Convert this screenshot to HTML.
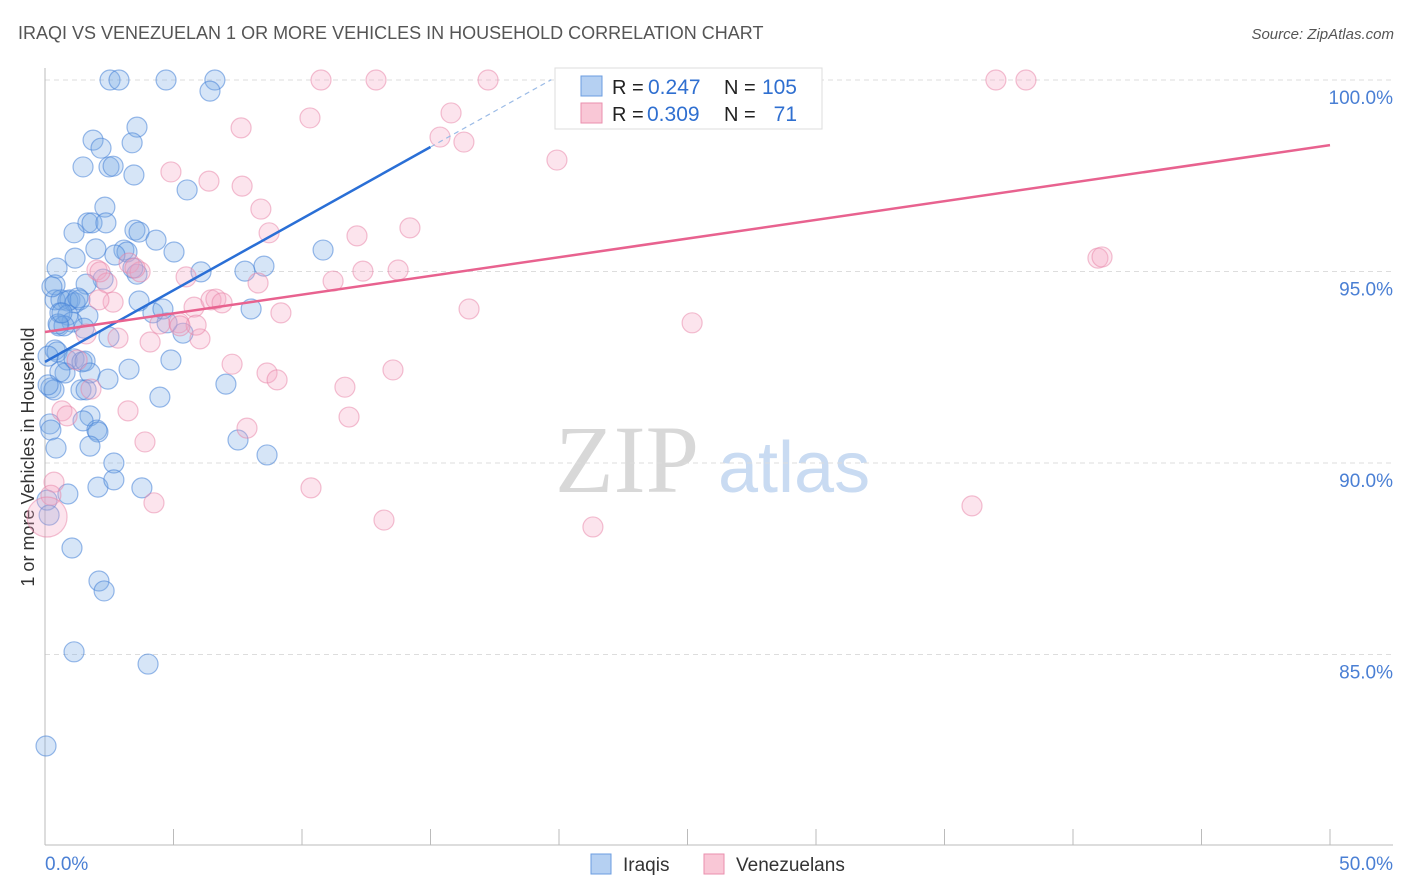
<!DOCTYPE html>
<html><head><meta charset="utf-8"><style>
body{margin:0;background:#fff;font-family:"Liberation Sans",sans-serif;}
#wrap{position:relative;width:1406px;height:892px;overflow:hidden;}
</style></head><body>
<div id="wrap">
<svg id="svg" width="1406" height="892" xmlns="http://www.w3.org/2000/svg">
<text x="18" y="39" font-size="18" fill="#555">IRAQI VS VENEZUELAN 1 OR MORE VEHICLES IN HOUSEHOLD CORRELATION CHART</text>
<text x="1394" y="39" font-size="15" fill="#555" font-style="italic" text-anchor="end">Source: ZipAtlas.com</text>
<text transform="translate(34,457) rotate(-90)" font-size="18" fill="#333" text-anchor="middle">1 or more Vehicles in Household</text>
<text x="555" y="492" font-size="96" fill="#d8d8d8" font-family="Liberation Serif,serif">ZIP</text>
<text x="718" y="492" font-size="72" fill="#c9dbf2">atlas</text>
<g id="grid"></g><g id="axes"></g><g id="pts"></g><g id="lines"></g>
<g>
<rect x="555" y="68" width="267" height="61" fill="#fff" stroke="#ddd"/>
<rect x="581" y="76" width="21" height="20" fill="#b5d0f2" stroke="#6b9de0"/>
<rect x="581" y="103" width="21" height="20" fill="#f9c7d6" stroke="#ea8fae"/>
<text x="612" y="94" font-size="20" fill="#222">R =</text>
<text x="648" y="94" font-size="21" fill="#2f6fd0">0.247</text>
<text x="724" y="94" font-size="20" fill="#222">N =</text>
<text x="797" y="94" font-size="21" fill="#2f6fd0" text-anchor="end">105</text>
<text x="612" y="121" font-size="20" fill="#222">R =</text>
<text x="647" y="121" font-size="21" fill="#2f6fd0">0.309</text>
<text x="724" y="121" font-size="20" fill="#222">N =</text>
<text x="797" y="121" font-size="21" fill="#2f6fd0" text-anchor="end">71</text>
</g>
<g>
<rect x="591" y="854" width="20" height="20" fill="#b5d0f2" stroke="#6b9de0"/>
<text x="623" y="871" font-size="19" fill="#333">Iraqis</text>
<rect x="704" y="854" width="20" height="20" fill="#f9c7d6" stroke="#ea8fae"/>
<text x="736" y="871" font-size="19" fill="#333">Venezuelans</text>
</g>
</svg>
</div>
<script>
const yTicks=[100,95,90,85];
const yTickLabels=["100.0%","95.0%","90.0%","85.0%"];
const xTicks=[0,5,10,15,20,25,30,35,40,45,50];
const xEndLabels=["0.0%","50.0%"];
const iraqiX=[2.53,2.88,4.71,6.61,6.42,1.87,3.58,2.18,1.48,2.49,2.65,3.39,3.46,5.53,2.33,1.67,1.83,2.37,1.13,3.5,3.66,4.32,1.98,3.07,3.19,5.02,1.17,2.72,0.47,2.26,3.58,1.6,3.42,7.78,8.52,10.82,6.07,0.39,0.39,0.62,0.97,0.89,1.17,1.36,1.28,0.58,1.67,0.89,1.05,0.54,0.74,1.52,2.49,5.37,4.75,4.2,3.66,4.59,8.02,0.39,0.47,0.86,1.13,1.44,1.56,0.78,1.75,2.45,3.27,4.9,0.58,0.23,0.35,1.4,1.6,0.12,4.47,7.04,1.75,0.19,0.23,1.48,2.02,2.06,7.51,1.75,0.43,2.68,8.64,2.06,2.68,3.77,0.89,0.08,0.16,1.05,2.1,2.3,1.13,4.01,0.04,0.12,0.27,0.51,0.66];
const iraqiY=[100,100,100,100,99.71,98.43,98.77,98.22,97.73,97.73,97.75,98.36,97.52,97.13,96.68,96.27,96.27,96.27,96.01,96.08,96.03,95.82,95.59,95.56,95.51,95.51,95.35,95.43,95.09,94.8,94.93,94.67,95.09,95.01,95.14,95.56,94.99,94.65,94.26,94.26,94.26,94.23,94.18,94.26,94.31,93.92,93.84,93.86,93.68,93.58,93.58,93.52,93.29,93.39,93.66,93.92,94.23,94.02,94.02,92.95,92.9,92.69,92.72,92.64,92.66,92.35,92.35,92.19,92.45,92.69,92.38,91.96,91.91,91.91,91.91,92.04,91.72,92.06,91.23,91.02,90.86,91.1,90.86,90.81,90.6,90.44,90.39,90,90.21,89.37,89.56,89.35,89.19,89.03,88.64,87.78,86.92,86.66,85.07,84.75,82.61,92.79,94.6,93.63,93.92];
const venX=[10.74,12.88,17.24,37,38.17,15.8,10.31,15.37,16.3,7.63,19.92,4.9,6.38,7.67,8.4,8.72,12.14,14.2,2.02,3.27,3.7,2.41,2.65,5.49,8.29,11.21,12.37,13.74,40.97,41.13,5.8,6.46,6.65,6.89,5.21,4.47,4.09,6.03,9.18,16.5,25.18,2.84,1.6,1.25,1.79,7.28,8.64,9.03,11.67,11.83,13.54,3.23,0.66,0.86,3.89,7.86,0.35,0.23,10.35,4.24,13.19,21.32,36.07,2.1,2.14,5.88,5.25,3.5,0.08];
const venY=[100,100,100,100,100,99.14,99.01,98.51,98.38,98.75,97.91,97.6,97.36,97.23,96.63,96.01,95.93,96.14,95.04,95.22,94.99,94.7,94.2,94.86,94.7,94.75,95.01,95.04,95.35,95.38,94.07,94.26,94.28,94.18,93.66,93.63,93.16,93.24,93.92,94.02,93.66,93.26,93.37,92.69,91.93,92.58,92.35,92.17,91.98,91.2,92.43,91.36,91.36,91.23,90.55,90.91,89.5,89.16,89.35,88.96,88.51,88.33,88.88,94.26,94.99,93.6,93.58,95.09,88.59];
const iraqiTrend=[92.64,0.374];
const iraqiTrendRange=[0,15,19.7];
const venTrend=[93.42,0.0976];
const venTrendRange=[0,50];
const NS="http://www.w3.org/2000/svg";
const xs=v=>45+v*25.7, ys=v=>80+(100-v)*38.3;
function mk(t,a,p){const e=document.createElementNS(NS,t);for(const k in a)e.setAttribute(k,a[k]);p.appendChild(e);return e;}
const grid=document.getElementById('grid'),axes=document.getElementById('axes'),pts=document.getElementById('pts'),lines=document.getElementById('lines');
yTicks.forEach((v,i)=>{
 const l=mk('line',{x1:45,x2:1393,y1:ys(v),y2:ys(v),stroke:'#ddd','stroke-dasharray':'5,4'},grid);
 
 
 const t=mk('text',{x:1393,y:ys(v)+24,'font-size':19,fill:'#4a7fd4','text-anchor':'end'},grid);t.textContent=yTickLabels[i];
 
 
});
const xl=mk('line',{x1:45,x2:1393,y1:845,y2:845,stroke:'#bbb'},axes);


const yl=mk('line',{x1:45,x2:45,y1:68,y2:845,stroke:'#bbb'},axes);


xTicks.forEach(v=>{const t=mk('line',{x1:xs(v),x2:xs(v),y1:829,y2:845,stroke:'#bbb'},axes);
 
 });
[[0,'start'],[50,'end']].forEach((p,i)=>{const t=mk('text',{x:i?1393:45,y:870,'font-size':19,fill:'#4a7fd4','text-anchor':p[1]},axes);t.textContent=xEndLabels[i];
 
 });
function dots(X,Y,fill,stroke,name){X.forEach((x,i)=>{
 const big=(name==='venezuelan-point'&&i===X.length-1);
 const c=mk('circle',{cx:xs(x),cy:ys(Y[i]),r:big?20:10,fill:fill,stroke:stroke,'stroke-width':1.2},pts);
 
 });}
dots(iraqiX,iraqiY,'rgba(120,170,230,0.3)','rgba(70,130,215,0.55)','iraqi-point');
dots(venX,venY,'rgba(245,165,195,0.3)','rgba(232,130,165,0.5)','venezuelan-point');
const f=(t,x)=>t[0]+t[1]*x;
const b1=mk('line',{x1:xs(iraqiTrendRange[0]),y1:ys(f(iraqiTrend,iraqiTrendRange[0])),x2:xs(iraqiTrendRange[1]),y2:ys(f(iraqiTrend,iraqiTrendRange[1])),stroke:'#2a6fd6','stroke-width':2.5},lines);


const b2=mk('line',{x1:xs(iraqiTrendRange[1]),y1:ys(f(iraqiTrend,iraqiTrendRange[1])),x2:xs(iraqiTrendRange[2]),y2:ys(f(iraqiTrend,iraqiTrendRange[2])),stroke:'#9bbbe6','stroke-width':1.2,'stroke-dasharray':'5,4'},lines);


const p1=mk('line',{x1:xs(venTrendRange[0]),y1:ys(f(venTrend,venTrendRange[0])),x2:xs(venTrendRange[1]),y2:ys(f(venTrend,venTrendRange[1])),stroke:'#e8628f','stroke-width':2.5},lines);


</script>
</body></html>
